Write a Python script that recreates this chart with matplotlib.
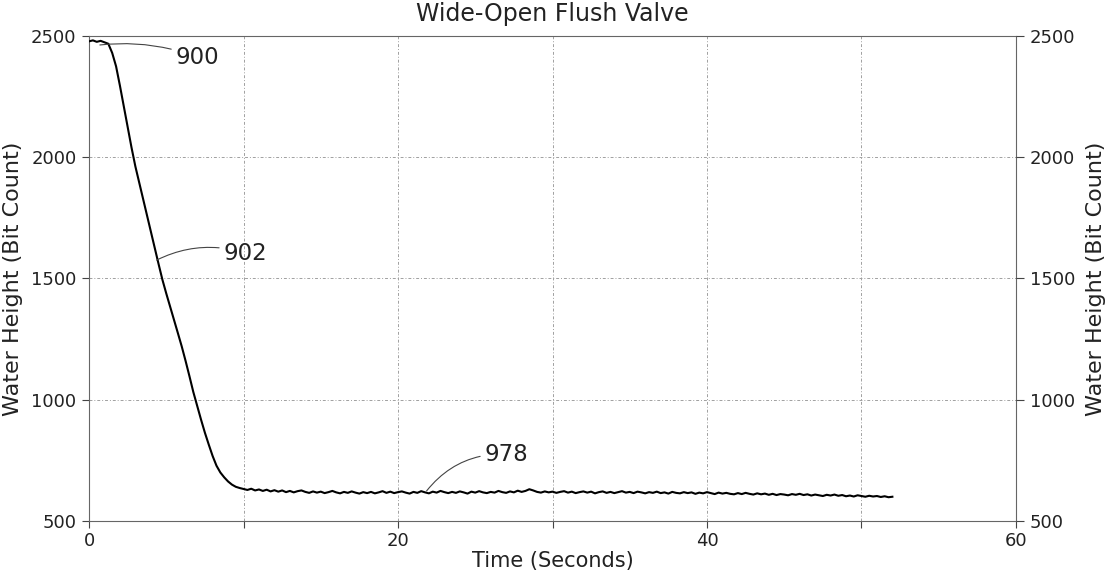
import numpy as np
import matplotlib
matplotlib.use("Agg")
import matplotlib.pyplot as plt

plt.rcParams['font.family'] = ['DejaVu Sans']

# Sampled water height (bit count), one reading every 0.25 s starting at t = 0
sample_step = 0.25
drain_values = [
    2478, 2482, 2476, 2480, 2474, 2468,
    2430, 2375, 2295, 2210, 2125, 2040, 1962, 1895, 1828, 1760,
    1693, 1626, 1560, 1495, 1438, 1384, 1330, 1275, 1220, 1160,
    1097, 1032, 975, 918, 864, 815, 768, 728, 700, 680,
    663, 650, 641, 636, 632,
]
settled_values = [
    628, 633, 626, 630, 624, 629, 622, 627, 621, 626, 619, 624,
    618, 623, 626, 620, 616, 622, 617, 621, 615, 619, 624, 618,
    614, 620, 616, 622, 617, 613, 619, 615, 620, 614, 618, 623,
    616, 621, 615, 619, 622, 617, 613, 620, 616, 623, 618, 614,
    621, 617, 624, 619, 615, 620, 616, 622, 618, 613, 621, 617,
    623, 618, 615, 620, 617, 624, 619, 616, 622, 618, 625, 620,
    624, 631, 626, 620, 617, 622, 618, 621, 616, 620, 623, 617,
    621, 615, 619, 622, 617, 621, 614, 619, 622, 616, 620, 615,
    619, 623, 617, 620, 615, 621, 618, 614, 619, 616, 621, 615,
    618, 613, 620, 616, 614, 619, 615, 618, 612, 617, 614, 619,
    615, 611, 617, 613, 616, 612, 610, 615, 611, 616, 612, 609,
    614, 610, 613, 608, 612, 607, 611, 609, 606, 611, 608, 612,
    607, 610, 605, 609, 606, 603, 608, 605, 609, 604, 607, 602,
    605, 601, 606, 603, 600, 604, 601, 603, 599, 602, 598, 600,
]
height = np.array(drain_values + settled_values, dtype=float)
time_s = np.arange(len(height)) * sample_step

# Callout labels: (text, point on trace, text position)
callout_labels = ["900", "902", "978"]
callout_points = [(0.7, 2463), (4.38, 1576), (21.85, 624)]
callout_text_pos = [(7.0, 2413), (10.1, 1605), (27.0, 776)]
callout_rad = [0.12, 0.2, 0.25]

x_ticks = [0, 10, 20, 30, 40, 50, 60]
x_tick_labels = ["0", "", "20", "", "40", "", "60"]
y_ticks = [500, 1000, 1500, 2000, 2500]

fig = plt.figure(figsize=(11.06, 5.76), dpi=100)
ax = fig.add_axes([0.0805, 0.0955, 0.9186 - 0.0805, 0.9375 - 0.0955])

ax.plot(time_s, height, color='black', lw=1.5, zorder=3)

ax.set_xlim(0, 60)
ax.set_ylim(500, 2500)
ax.set_xticks(x_ticks)
ax.set_xticklabels(x_tick_labels)
ax.set_yticks(y_ticks)

grid_style = dict(color='#a0a0a0', lw=0.7, linestyle=(0, (3, 2, 1, 2)))
ax.grid(True, **grid_style)

for sp in ax.spines.values():
    sp.set_color('#666666')
    sp.set_linewidth(0.8)

ax.tick_params(axis='both', direction='out', length=5, width=0.8,
               color='#444444', labelsize=13, labelcolor='#222222')
ax.tick_params(axis='x', pad=3)
ax.tick_params(axis='y', pad=4)

ax.set_xlabel("Time (Seconds)", fontsize=15, color='#222222', labelpad=1)
ax.set_ylabel("Water Height (Bit Count)", fontsize=16, color='#222222', labelpad=6)
ax.set_title("Wide-Open Flush Valve", fontsize=17, color='#222222', pad=11)

axr = ax.twinx()
axr.set_ylim(500, 2500)
axr.set_yticks(y_ticks)
axr.tick_params(axis='y', direction='out', length=6, width=0.8,
                color='#444444', labelsize=13, labelcolor='#222222', pad=4)
axr.set_ylabel("Water Height (Bit Count)", fontsize=16, color='#222222', labelpad=8)
for sp in axr.spines.values():
    sp.set_visible(False)

for label, pt, tp, rad in zip(callout_labels, callout_points, callout_text_pos, callout_rad):
    ax.annotate(label, xy=pt, xytext=tp, fontsize=16.5, color='#222222',
                ha='center', va='center', zorder=4,
                arrowprops=dict(arrowstyle='-', color='#444444', lw=0.8,
                                shrinkA=1, shrinkB=0,
                                connectionstyle=f"arc3,rad={rad}"))

fig.savefig("out.png", dpi=100)
